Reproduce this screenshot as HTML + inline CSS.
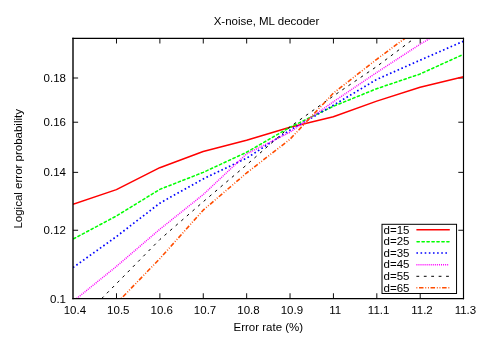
<!DOCTYPE html>
<html><head><meta charset="utf-8"><title>X-noise, ML decoder</title>
<style>html,body{margin:0;padding:0;background:#fff}svg{display:block}text{font-family:"Liberation Sans",sans-serif;font-size:11.5px;fill:#000}</style>
</head><body>
<svg style="will-change:transform" width="502" height="354" viewBox="0 0 502 354">
<rect width="502" height="354" fill="#fff"/>
<defs><clipPath id="c"><rect x="73.00" y="38.30" width="390.50" height="260.25"/></clipPath></defs>
<path d="M116.49 298.55v-5.3M116.49 38.30v5.2M159.88 298.55v-5.3M159.88 38.30v5.2M203.27 298.55v-5.3M203.27 38.30v5.2M246.66 298.55v-5.3M246.66 38.30v5.2M290.04 298.55v-5.3M290.04 38.30v5.2M333.43 298.55v-5.3M333.43 38.30v5.2M376.82 298.55v-5.3M376.82 38.30v5.2M420.21 298.55v-5.3M420.21 38.30v5.2M73.00 230.25h5.1M463.50 230.25h-5.2M73.00 172.37h5.1M463.50 172.37h-5.2M73.00 122.23h5.1M463.50 122.23h-5.2M73.00 78.01h5.1M463.50 78.01h-5.2" stroke="#000" stroke-width="0.95" fill="none"/>
<g clip-path="url(#c)" fill="none" stroke-linejoin="round">
<polyline points="73.00,204.30 116.39,189.60 159.78,167.70 203.17,151.50 246.56,140.20 289.94,127.30 333.33,116.70 376.72,101.10 420.11,87.30 463.50,76.70" stroke="#ff0000" stroke-width="1.5"/>
<polyline points="73.00,239.10 116.39,216.00 159.78,189.40 203.17,172.40 246.56,152.30 289.94,127.30 333.33,106.30 376.72,88.70 420.11,74.00 463.50,54.30" stroke="#00ff00" stroke-width="1.55" stroke-linecap="round" stroke-dasharray="2.25 2.72" stroke-dashoffset="-0.65"/>
<polyline points="73.00,267.60 116.39,236.60 159.78,203.20 203.17,178.90 246.56,158.20 289.94,130.20 333.33,105.30 376.72,79.40 420.11,60.20 463.50,41.20" stroke="#0000ff" stroke-width="1.7" stroke-dasharray="1.6 2.54"/>
<polyline points="76.65,298.55 116.39,266.40 159.78,229.30 203.17,194.60 246.56,153.90 289.94,132.20 333.33,101.80 376.72,72.50 420.11,44.20 430.07,38.30" stroke="#ff00ff" stroke-width="1.5" stroke-dasharray="1 1.05"/>
<polyline points="101.64,298.55 116.39,283.70 159.78,239.60 203.17,201.80 246.56,164.90 289.94,126.90 333.33,96.00 376.72,66.50 414.37,38.30" stroke="#000000" stroke-width="1.0" stroke-dasharray="2.8 4.62"/>
<polyline points="121.18,298.55 159.78,258.70 203.17,210.20 246.56,173.00 289.94,139.30 333.33,93.20 376.72,59.30 404.93,38.30" stroke="#ff4d00" stroke-width="1.6" stroke-dasharray="0.9 1.7 4.5 1.8 0.9 1.75"/>
</g>
<rect x="382.00" y="224.30" width="74.55" height="69.20" fill="#fff" stroke="#000" stroke-width="1.0"/>
<text x="383.6" y="233.50">d=15</text>
<path d="M416.4 229.65H449.8" fill="none" stroke="#ff0000" stroke-width="1.5"/>
<text x="383.6" y="245.12">d=25</text>
<path d="M416.4 241.70H449.0" fill="none" stroke="#00ff00" stroke-width="1.55" stroke-linecap="round" stroke-dasharray="2.25 2.72" stroke-dashoffset="-0.65"/>
<text x="383.6" y="256.74">d=35</text>
<path d="M416.4 253.00H449.3" fill="none" stroke="#0000ff" stroke-width="1.7" stroke-dasharray="1.6 2.54"/>
<text x="383.6" y="268.36">d=45</text>
<path d="M416.4 264.80H449.2" fill="none" stroke="#ff00ff" stroke-width="1.5" stroke-dasharray="1 1.05"/>
<text x="383.6" y="279.98">d=55</text>
<path d="M416.4 276.30H449.8" fill="none" stroke="#000000" stroke-width="1.0" stroke-dasharray="2.8 4.62"/>
<text x="383.6" y="291.60">d=65</text>
<path d="M416.4 287.70H449.8" fill="none" stroke="#ff4d00" stroke-width="1.6" stroke-dasharray="0.9 1.7 4.5 1.8 0.9 1.75"/>
<path d="M73.00 37.80V299.15" fill="none" stroke="#000" stroke-width="1.4"/>
<path d="M72.30 38.40H464.05" fill="none" stroke="#000" stroke-width="1.2"/>
<path d="M463.50 37.80V299.15" fill="none" stroke="#000" stroke-width="1.15"/>
<path d="M72.30 298.55H464.05" fill="none" stroke="#000" stroke-width="1.2"/>
<text x="266.5" y="24.8" text-anchor="middle">X-noise, ML decoder</text>
<text x="268.3" y="331.3" text-anchor="middle">Error rate (%)</text>
<text transform="translate(22.2 168.8) rotate(-90)" text-anchor="middle">Logical error probability</text>
<text x="66" y="302.75" text-anchor="end">0.1</text>
<text x="66" y="234.30" text-anchor="end">0.12</text>
<text x="66" y="176.42" text-anchor="end">0.14</text>
<text x="66" y="126.28" text-anchor="end">0.16</text>
<text x="66" y="82.06" text-anchor="end">0.18</text>
<text x="74.90" y="314" text-anchor="middle">10.4</text>
<text x="118.29" y="314" text-anchor="middle">10.5</text>
<text x="161.68" y="314" text-anchor="middle">10.6</text>
<text x="205.07" y="314" text-anchor="middle">10.7</text>
<text x="248.46" y="314" text-anchor="middle">10.8</text>
<text x="291.84" y="314" text-anchor="middle">10.9</text>
<text x="335.23" y="314" text-anchor="middle">11</text>
<text x="378.62" y="314" text-anchor="middle">11.1</text>
<text x="422.01" y="314" text-anchor="middle">11.2</text>
<text x="465.40" y="314" text-anchor="middle">11.3</text>
</svg></body></html>
